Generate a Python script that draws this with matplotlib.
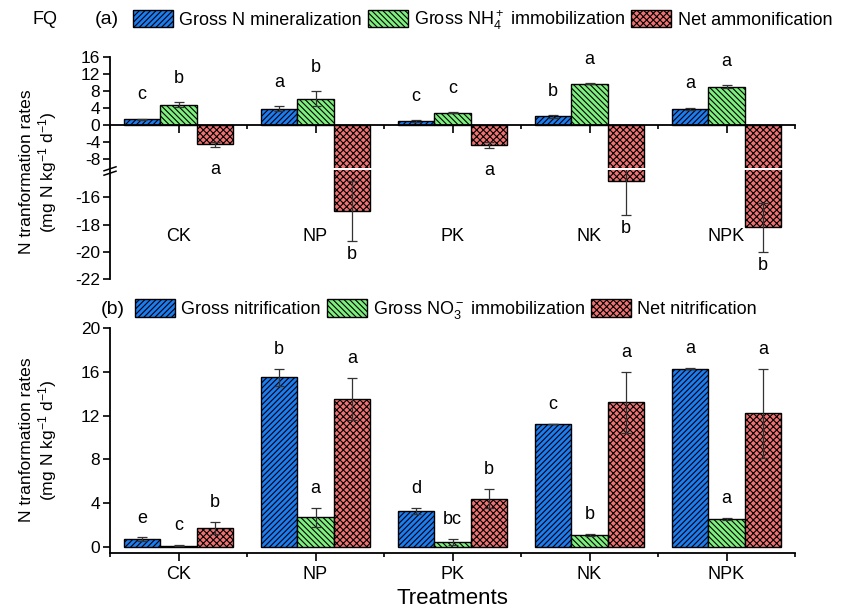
import numpy as np
import matplotlib
matplotlib.use("Agg")
import matplotlib.pyplot as plt
from matplotlib.patches import Patch
from matplotlib.lines import Line2D

plt.rcParams['font.family'] = ['Liberation Sans', 'DejaVu Sans']
plt.rcParams['mathtext.fontset'] = 'custom'
plt.rcParams['mathtext.rm'] = 'Liberation Sans'
plt.rcParams['mathtext.it'] = 'Liberation Sans:italic'
plt.rcParams['hatch.linewidth'] = 0.8
plt.rcParams['axes.unicode_minus'] = False

# ---- data ----
treatments = ['CK', 'NP', 'PK', 'NK', 'NPK']

# (a) ammonium fluxes
gross_min = [1.3, 3.8, 1.0, 2.0, 3.8]
gross_min_err = [0.2, 0.6, 0.2, 0.3, 0.3]
gross_nh4_imm = [4.8, 6.2, 2.9, 9.7, 9.0]
gross_nh4_imm_err = [0.5, 1.7, 0.2, 0.1, 0.3]
net_amm = [-4.5, -17.0, -4.7, -14.8, -18.2]
net_amm_err = [0.6, 2.2, 0.8, 2.5, 1.8]
let_min = ['c', 'a', 'c', 'b', 'a']
let_nh4 = ['b', 'b', 'c', 'a', 'a']
let_amm = ['a', 'b', 'a', 'b', 'b']

# (b) nitrate fluxes
gross_nit = [0.7, 15.5, 3.3, 11.2, 16.3]
gross_nit_err = [0.17, 0.8, 0.3, 0.0, 0.05]
gross_no3_imm = [0.13, 2.7, 0.46, 1.1, 2.56]
gross_no3_imm_err = [0.03, 0.85, 0.27, 0.05, 0.07]
net_nit = [1.78, 13.5, 4.43, 13.2, 12.2]
net_nit_err = [0.55, 1.9, 0.88, 2.8, 4.1]
let_nit = ['e', 'b', 'd', 'c', 'a']
let_no3 = ['c', 'a', 'bc', 'b', 'a']
let_net = ['b', 'a', 'b', 'a', 'a']

# ---- style ----
blue = '#1c7cf2'
green = '#7ef07e'
red = '#f07272'
hatches = ['//////', '\\\\\\\\\\\\', 'xxxxx']
colors = [blue, green, red]
W, H = 851, 613
x = np.arange(len(treatments))
bw = 0.8 / 3
offs = [-bw, 0, bw]

fig = plt.figure(figsize=(W / 100, H / 100), dpi=100)


def fx(px):
    return px / W


def fy(py):
    return 1 - py / H


ax_up = fig.add_axes([fx(110), fy(167.7), fx(795) - fx(110), fy(56.7) - fy(167.7)])
ax_lo = fig.add_axes([fx(110), fy(279.3), fx(795) - fx(110), fy(170) - fy(279.3)])
ax_b = fig.add_axes([fx(110), fy(552.5), fx(795) - fx(110), fy(328) - fy(552.5)])

for ax in (ax_up, ax_lo, ax_b):
    ax.set_xlim(-0.5, 4.5)
    ax.patch.set_visible(False)
    for s in ('top', 'right'):
        ax.spines[s].set_visible(False)
    ax.spines['left'].set_linewidth(1.3)
    ax.spines['bottom'].set_linewidth(1.3)
    ax.tick_params(axis='y', direction='out', length=5, width=1.2, labelsize=12.5, pad=2)


def draw_bars(ax, series, errs):
    for k in range(3):
        ax.bar(x + offs[k], series[k], bw, color=colors[k], edgecolor='black',
               linewidth=1.0, hatch=hatches[k], zorder=2)
        ax.errorbar(x + offs[k], series[k], yerr=errs[k], fmt='none', ecolor='#333333',
                    elinewidth=0.9, capsize=3.5, capthick=0.9, zorder=3)


# ---- panel (a) ----
a_series = [gross_min, gross_nh4_imm, net_amm]
a_errs = [gross_min_err, gross_nh4_imm_err, net_amm_err]
draw_bars(ax_up, a_series, a_errs)
draw_bars(ax_lo, a_series, a_errs)

ax_up.set_ylim(-10, 16)
ax_up.set_yticks([-8, -4, 0, 4, 8, 12, 16])
ax_up.spines['bottom'].set_position(('data', 0))
ax_up.set_xticks(x)
ax_up.set_xticklabels([])
ax_up.set_xticks(np.arange(-0.5, 5, 1), minor=True)
ax_up.tick_params(axis='x', which='major', direction='out', length=6, width=1.2)
ax_up.tick_params(axis='x', which='minor', direction='out', length=3, width=1.2)

ax_lo.set_ylim(-22, -14)
ax_lo.set_yticks([-22, -20, -18, -16])
ax_lo.spines['bottom'].set_visible(False)
ax_lo.set_xticks([])

for i, name in enumerate(treatments):
    ax_lo.text(x[i], -18.9, name, ha='center', va='center', fontsize=13)

for k, lets in enumerate([let_min, let_nh4, let_amm]):
    for i in range(len(treatments)):
        v = a_series[k][i]
        e = a_errs[k][i]
        if v >= 0:
            ax_up.annotate(lets[i], (x[i] + offs[k], v + e), xytext=(0, 17),
                           textcoords='offset points', ha='center', va='center',
                           fontsize=13, annotation_clip=False)
        elif v - e > -14:
            ax_up.annotate(lets[i], (x[i] + offs[k], v - e), xytext=(0, -16),
                           textcoords='offset points', ha='center', va='center',
                           fontsize=13, annotation_clip=False)
        else:
            ax_lo.annotate(lets[i], (x[i] + offs[k], v - e), xytext=(0, -10),
                           textcoords='offset points', ha='center', va='center',
                           fontsize=13, annotation_clip=False)

# axis break marks
for dy in (-2.2, 2.2):
    fig.add_artist(Line2D([fx(104), fx(116)], [fy(171 + dy + 2), fy(171 + dy - 2)],
                          color='black', linewidth=1.1))

# ---- panel (b) ----
b_series = [gross_nit, gross_no3_imm, net_nit]
b_errs = [gross_nit_err, gross_no3_imm_err, net_nit_err]
draw_bars(ax_b, b_series, b_errs)
ax_b.set_ylim(-0.5, 20)
ax_b.set_yticks([0, 4, 8, 12, 16, 20])
ax_b.set_xticks(x)
ax_b.set_xticklabels(treatments, fontsize=13)
ax_b.set_xticks(np.arange(-0.5, 5, 1), minor=True)
ax_b.tick_params(axis='x', which='major', direction='out', length=6, width=1.2, pad=4)
ax_b.tick_params(axis='x', which='minor', direction='out', length=3, width=1.2)
ax_b.set_xlabel('Treatments', fontsize=16, labelpad=3)

for k, lets in enumerate([let_nit, let_no3, let_net]):
    for i in range(len(treatments)):
        v = b_series[k][i]
        e = b_errs[k][i]
        ax_b.annotate(lets[i], (x[i] + offs[k], v + e), xytext=(0, 14),
                      textcoords='offset points', ha='center', va='center', fontsize=13,
                      annotation_clip=False)

# ---- y labels ----
ylab = 'N tranformation rates\n(mg N kg$^{-1}$ d$^{-1}$)'
fig.text(fx(39), fy(172), ylab, rotation=90, ha='center', va='center',
         multialignment='center', fontsize=12.6, linespacing=1.15)
fig.text(fx(39), fy(440), ylab, rotation=90, ha='center', va='center',
         multialignment='center', fontsize=12.6, linespacing=1.15)

# ---- legends / panel tags ----
fig.text(fx(45), fy(20), 'FQ', ha='center', va='center', fontsize=13)
fig.text(fx(107), fy(20), '(a)', ha='center', va='center', fontsize=14)
fig.text(fx(113), fy(310), '(b)', ha='center', va='center', fontsize=14)

a_labels = ['Gross N mineralization', 'Gross NH$_4^+$ immobilization', 'Net ammonification']
b_labels = ['Gross nitrification', 'Gross NO$_3^-$ immobilization', 'Net nitrification']
handles = [Patch(facecolor=colors[k], edgecolor='black', hatch=hatches[k], linewidth=1.0)
           for k in range(3)]

leg_kw = dict(loc='center left', ncol=3, frameon=False, fontsize=13, handlelength=2.2,
              handleheight=1.1, handletextpad=0.35, columnspacing=0.35, borderpad=0,
              borderaxespad=0)
fig.legend(handles, a_labels, bbox_to_anchor=(fx(133), fy(20)), **leg_kw)
fig.legend(handles, b_labels, bbox_to_anchor=(fx(135), fy(310)), **leg_kw)

fig.savefig('out.png', dpi=100)
